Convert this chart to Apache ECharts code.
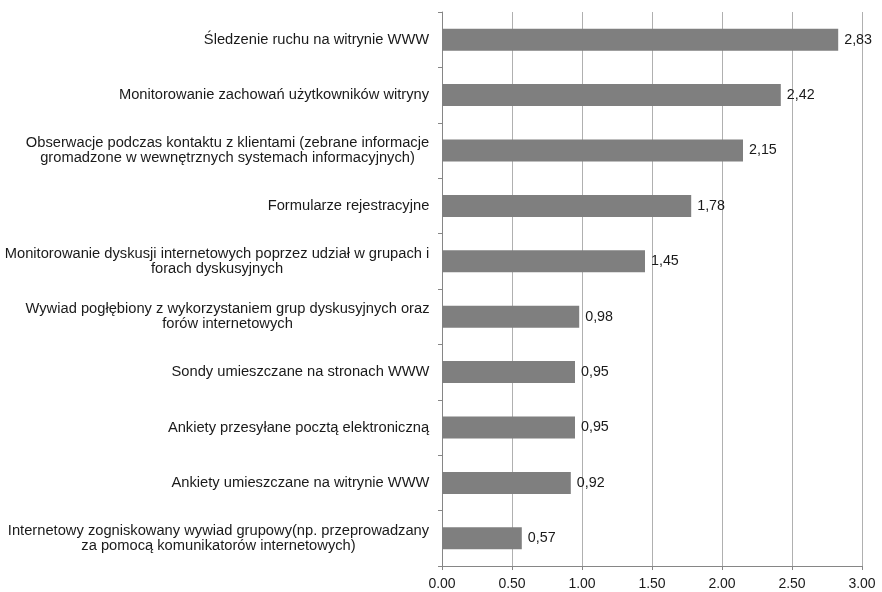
<!DOCTYPE html>
<html><head><meta charset="utf-8">
<script src="https://cdn.jsdelivr.net/npm/echarts@6/dist/echarts.min.js"></script>
<style>html,body{margin:0;padding:0;background:#fff}#c{width:882px;height:592px}</style>
</head><body><div id="c"></div>
<script>
const categories = [
  "Śledzenie ruchu na witrynie WWW",
  "Monitorowanie zachowań użytkowników witryny",
  "Obserwacje podczas kontaktu z klientami (zebrane informacje\ngromadzone w wewnętrznych systemach informacyjnych)",
  "Formularze rejestracyjne",
  "Monitorowanie dyskusji internetowych poprzez udział w grupach i\nforach dyskusyjnych",
  "Wywiad pogłębiony z wykorzystaniem grup dyskusyjnych oraz\nforów internetowych",
  "Sondy umieszczane na stronach WWW",
  "Ankiety przesyłane pocztą elektroniczną",
  "Ankiety umieszczane na witrynie WWW",
  "Internetowy zogniskowany wywiad grupowy(np. przeprowadzany\nza pomocą komunikatorów internetowych)"
];
const values = [2.83, 2.42, 2.15, 1.78, 1.45, 0.98, 0.95, 0.95, 0.92, 0.57];
const xTicks = { min: 0, max: 3, interval: 0.5 };

const FONT = 'Liberation Sans';
const CAT_SIZE = 14.7;
const ctx = document.createElement('canvas').getContext('2d');
ctx.font = CAT_SIZE + 'px "' + FONT + '"';
const rich = {};
categories.forEach((c, i) => {
  const w = Math.max(...c.split('\n').map(s => ctx.measureText(s).width));
  rich['c' + i] = { width: Math.ceil(w) + 1, align: 'center', fontSize: CAT_SIZE, lineHeight: 15, color: '#1a1a1a', fontFamily: FONT };
});

const chart = echarts.init(document.getElementById('c'));
chart.setOption({
  animation: false,
  textStyle: { fontFamily: FONT },
  grid: { left: 442, right: 20, top: 12, bottom: 26, containLabel: false },
  xAxis: {
    type: 'value', min: xTicks.min, max: xTicks.max, interval: xTicks.interval,
    axisLine: { show: true, lineStyle: { color: '#868686' } },
    axisTick: { show: true, length: 4, lineStyle: { color: '#868686' } },
    axisLabel: { color: '#1a1a1a', fontSize: 14, margin: 11, formatter: v => v.toFixed(2) },
    splitLine: { show: true, lineStyle: { color: '#b0b0b0', width: 1 } }
  },
  yAxis: {
    type: 'category', inverse: true, data: categories,
    axisLine: { show: true, lineStyle: { color: '#868686' } },
    axisTick: { show: true, length: 4, lineStyle: { color: '#868686' } },
    axisLabel: {
      color: '#1a1a1a', fontSize: CAT_SIZE, margin: 12, align: 'right', lineHeight: 15, rich,
      formatter: (v, i) => v.split('\n').map(s => '{c' + i + '|' + s + '}').join('\n')
    }
  },
  series: [{
    type: 'bar', data: values, barWidth: 22,
    itemStyle: { color: '#7f7f7f' },
    label: { show: true, position: 'right', distance: 6, color: '#1a1a1a', fontSize: 14.3,
      formatter: p => p.value.toFixed(2).replace('.', ',') }
  }]
});
</script></body></html>
